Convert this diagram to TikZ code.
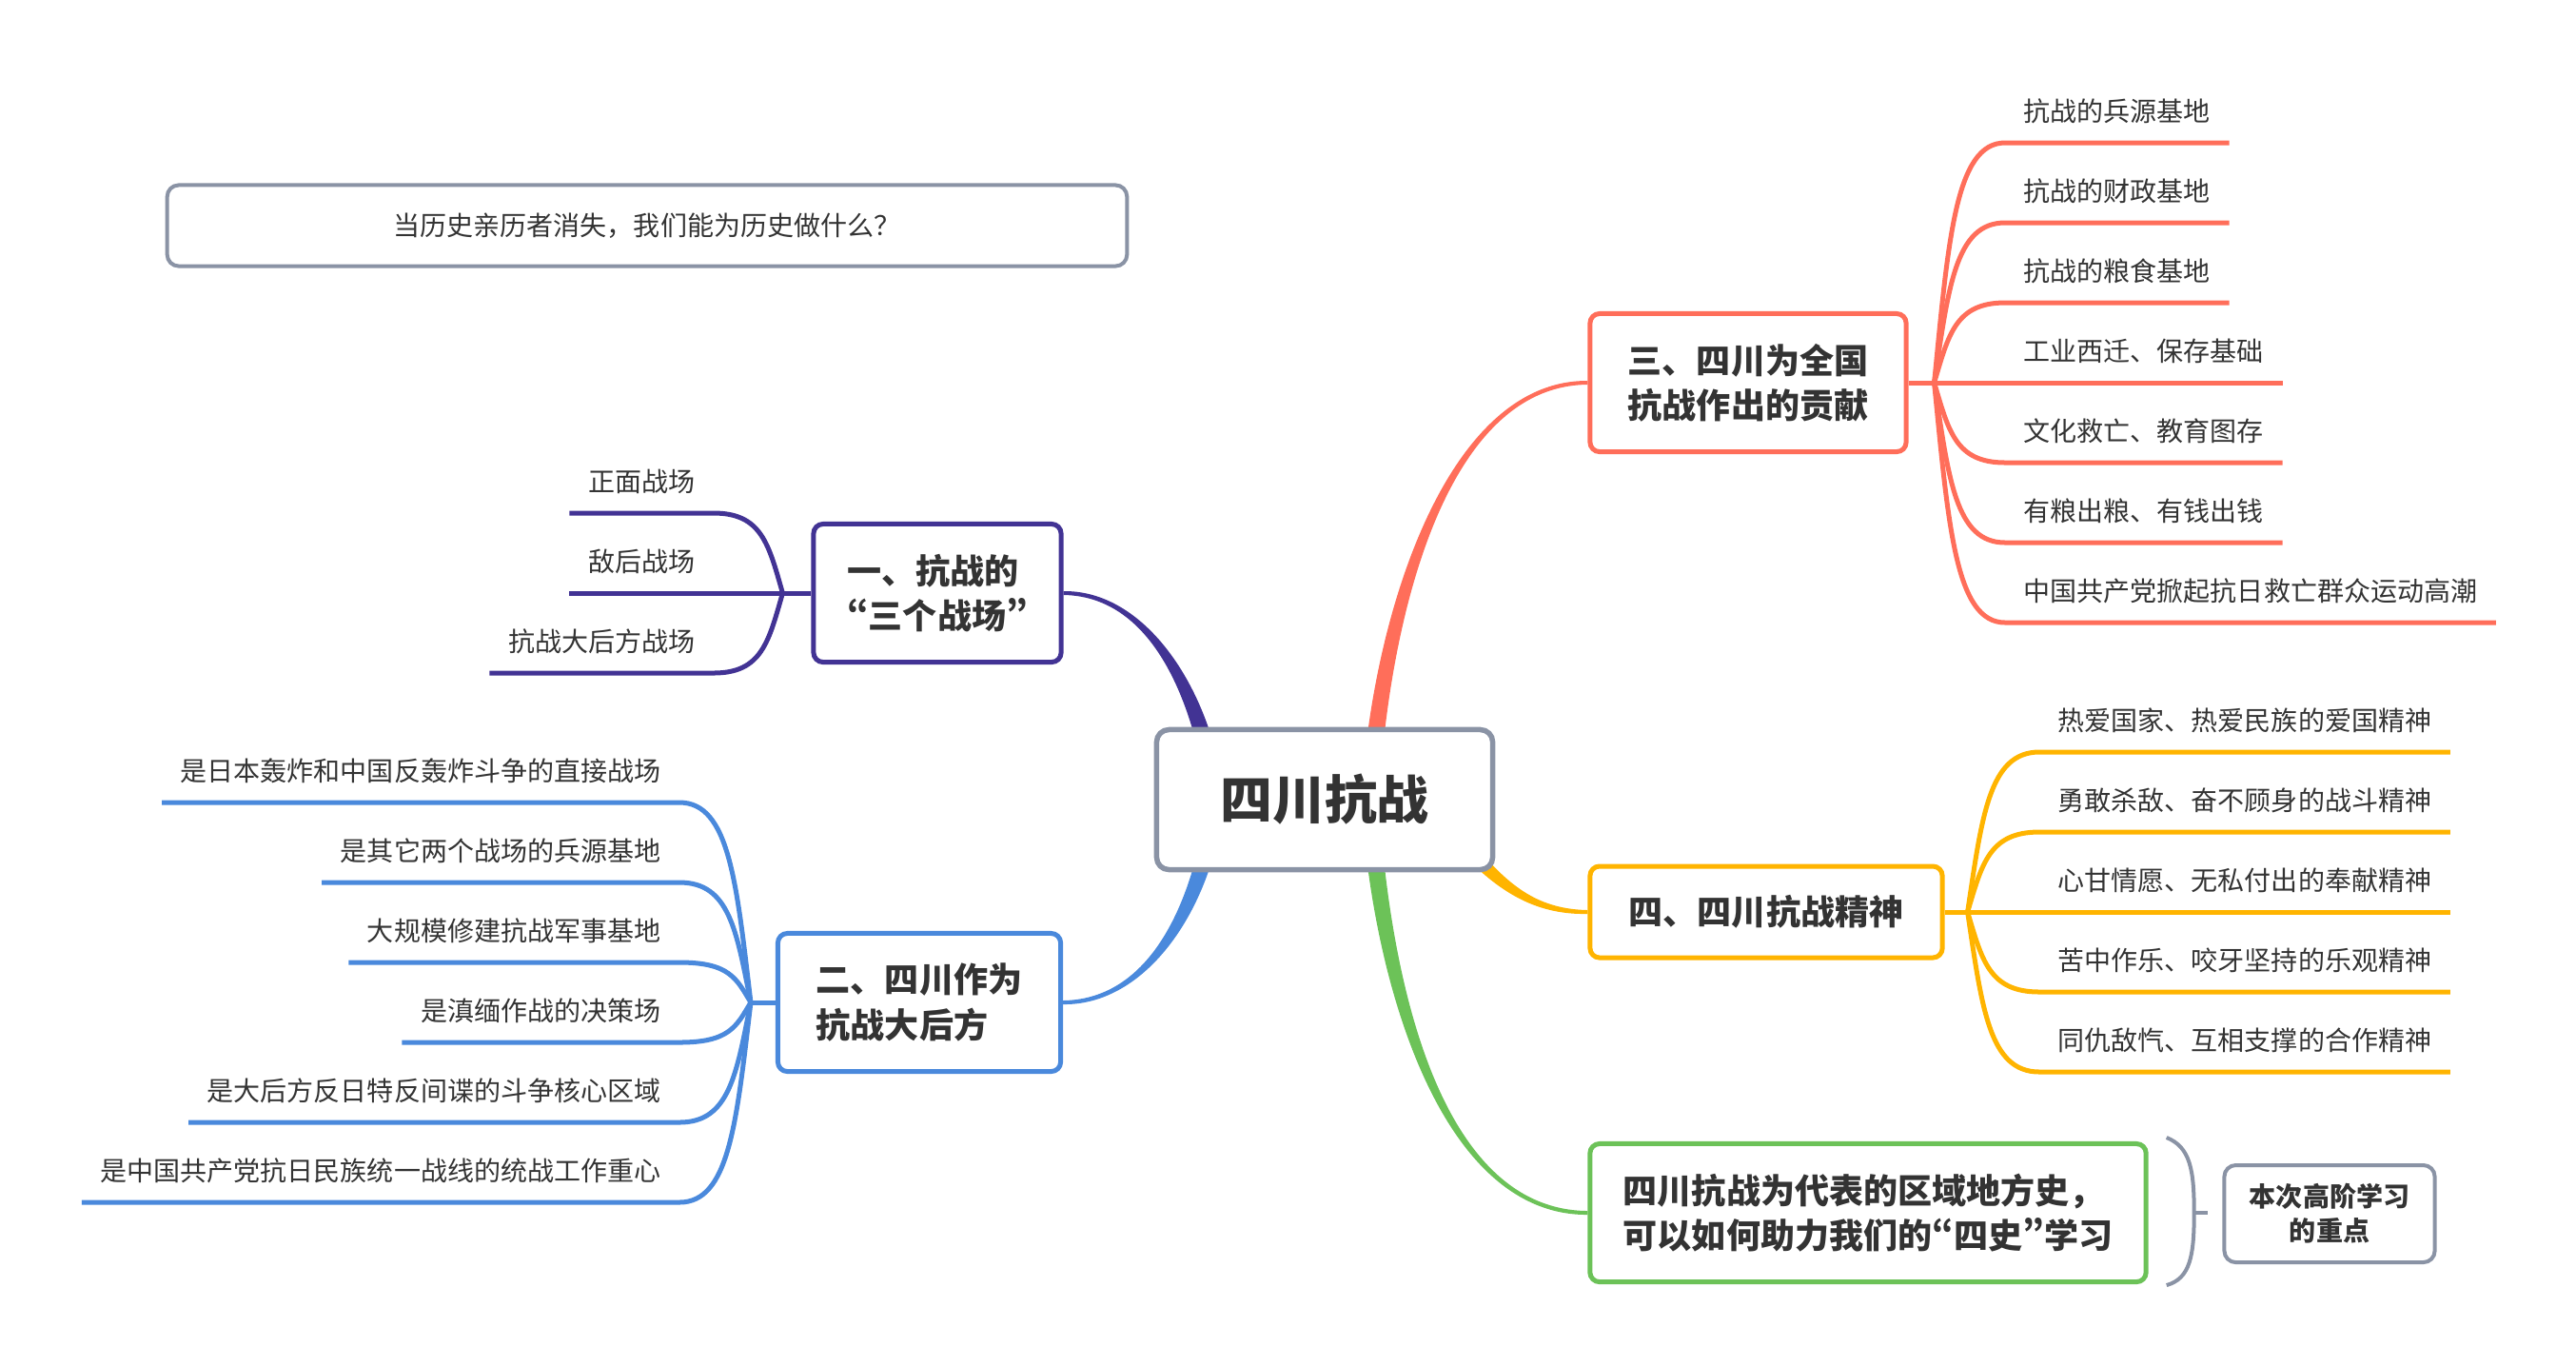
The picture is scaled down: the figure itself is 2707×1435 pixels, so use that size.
\documentclass[tikz,border=0pt]{standalone}
\usepackage{fontspec}
\setmainfont{Noto Sans CJK SC}
\newfontfamily\qf{Noto Sans CJK SC}[CharacterWidth=Proportional]
\usetikzlibrary{calc,backgrounds}
\definecolor{ink}{RGB}{51,51,51}
\definecolor{slate}{RGB}{138,147,165}
\definecolor{indigo}{RGB}{66,51,148}
\definecolor{sky}{RGB}{74,137,220}
\definecolor{coral}{RGB}{255,110,90}
\definecolor{amber}{RGB}{255,180,0}
\definecolor{grass}{RGB}{108,194,88}
\tikzset{
  hub/.style={draw=slate,line width=.055cm,rounded corners=.13cm,fill=white,text=ink,minimum width=3.53cm,minimum height=1.47cm,font=\bfseries\fontsize{15.6pt}{18pt}\selectfont},
  topic/.style={draw=#1,line width=.05cm,rounded corners=.1cm,fill=white,text=ink,align=left,inner sep=0pt,font=\bfseries\fontsize{10.25pt}{13.4pt}\selectfont},
  leaf/.style={text=ink,inner xsep=.19cm,inner ysep=.22cm,text depth=0pt,font=\fontsize{7.97pt}{10pt}\selectfont},
  note/.style={draw=slate,line width=.04cm,rounded corners=.12cm,fill=white,text=ink,align=center},
  twig/.style={draw=#1,line width=.05cm},
  fork/.style={to path={let \p1=(\tikztostart),\p2=(\tikztotarget) in
    .. controls ({\x1+0.2*(\x2-\x1)},{\y1+0.6*(\y2-\y1)}) and ({\x1+0.3*(\x2-\x1)},\y2) .. (\tikztotarget)}}
}
\begin{document}
\begin{tikzpicture}[x=0.01cm,y=-0.01cm]
\useasboundingbox (0,0) rectangle (2707,1435);

% question and centre
\node[note,minimum width=10.08cm,minimum height=.85cm,font=\fontsize{7.97pt}{10pt}\selectfont] (quest) at (680,237) {当历史亲历者消失，我们能为历史做什么？};
\node[hub] (hub) at (1392,840) {四川抗战};

% main topics
\node[topic=indigo,minimum width=2.6cm,minimum height=1.45cm] (t1) at (985,623) {一、抗战的\\{\qf“}三个战场{\qf”}};
\node[topic=sky,minimum width=2.97cm,minimum height=1.45cm] (t2) at (966,1053) {二、四川作为\\抗战大后方};
\node[topic=coral,minimum width=3.32cm,minimum height=1.45cm] (t3) at (1837,402) {三、四川为全国\\抗战作出的贡献};
\node[topic=amber,minimum width=3.7cm,minimum height=.96cm] (t4) at (1856,958) {四、四川抗战精神};
\node[topic=grass,minimum width=5.84cm,minimum height=1.45cm] (t5) at (1963,1274) {四川抗战为代表的区域地方史，\\可以如何助力我们的{\qf“}四史{\qf”}学习};
\node[note,minimum width=2.21cm,minimum height=1.02cm,font=\bfseries\fontsize{7.97pt}{10.2pt}\selectfont] (focus) at (2448,1275) {本次高阶学习\\的重点};

% tapered limbs from the centre
\coordinate (sr) at ($(hub.north)+(52,24)$);
\coordinate (sg) at ($(hub.south)+(52,-24)$);
\coordinate (sp) at ($(hub.north)+(-124,24)$);
\coordinate (sb) at ($(hub.south)+(-124,-24)$);
\coordinate (sy) at ($(hub.south east)+(-28,-24)$);
\begin{scope}[on background layer]
\fill[coral] ($(sr)+(-9,0)$) .. controls ($(sr)+(10,-170)$) and ($(t3.west)+(-140,-3)$) .. ($(t3.west)+(0,-2)$)
  -- ($(t3.west)+(0,2)$) .. controls ($(t3.west)+(-140,3)$) and ($(sr)+(26,-170)$) .. ($(sr)+(9,0)$) -- cycle;
\fill[grass] ($(sg)+(-9,0)$) .. controls ($(sg)+(10,170)$) and ($(t5.west)+(-145,3)$) .. ($(t5.west)+(0,2)$)
  -- ($(t5.west)+(0,-2)$) .. controls ($(t5.west)+(-145,-3)$) and ($(sg)+(26,170)$) .. ($(sg)+(9,0)$) -- cycle;
\fill[indigo] ($(sp)+(9,0)$) .. controls ($(sp)+(-15,-90)$) and ($(t1.east)+(75,-3)$) .. ($(t1.east)+(0,-2)$)
  -- ($(t1.east)+(0,2)$) .. controls ($(t1.east)+(75,3)$) and ($(sp)+(-31,-90)$) .. ($(sp)+(-9,0)$) -- cycle;
\fill[sky] ($(sb)+(9,0)$) .. controls ($(sb)+(-15,90)$) and ($(t2.east)+(75,3)$) .. ($(t2.east)+(0,2)$)
  -- ($(t2.east)+(0,-2)$) .. controls ($(t2.east)+(75,-3)$) and ($(sb)+(-31,90)$) .. ($(sb)+(-9,0)$) -- cycle;
\fill[amber] ($(sy)+(6,-5)$) .. controls ($(sy)+(44,41)$) and ($(t4.west)+(-50,-3)$) .. ($(t4.west)+(0,-2)$)
  -- ($(t4.west)+(0,2)$) .. controls ($(t4.west)+(-50,3)$) and ($(sy)+(36,49)$) .. ($(sy)+(-6,5)$) -- cycle;
\end{scope}

% branch one
\coordinate (j1) at ($(t1.west)+(-30,0)$);
\draw[twig=indigo] (t1.west) -- (j1);
\foreach \i/\txt in {0/正面战场,1/敌后战场,2/抗战大后方战场} {
  \node[leaf,anchor=south east] (p\i) at (750,539+84*\i) {\txt};
  \draw[twig=indigo] (j1) to[fork] (p\i.south east) -- (p\i.south west);
}

% branch two
\coordinate (j2) at ($(t2.west)+(-26,0)$);
\draw[twig=sky] (t2.west) -- (j2);
\foreach \i/\txt in {0/是日本轰炸和中国反轰炸斗争的直接战场,1/是其它两个战场的兵源基地,2/大规模修建抗战军事基地,
  3/是滇缅作战的决策场,4/是大后方反日特反间谍的斗争核心区域,5/是中国共产党抗日民族统一战线的统战工作重心} {
  \node[leaf,anchor=south east] (b\i) at (714,843+84*\i) {\txt};
  \draw[twig=sky] (j2) to[fork] (b\i.south east) -- (b\i.south west);
}

% branch three
\coordinate (j3) at ($(t3.east)+(27,0)$);
\draw[twig=coral] (t3.east) -- (j3);
\foreach \i/\txt in {0/抗战的兵源基地,1/抗战的财政基地,2/抗战的粮食基地,3/工业西迁、保存基础,
  4/文化救亡、教育图存,5/有粮出粮、有钱出钱,6/中国共产党掀起抗日救亡群众运动高潮} {
  \node[leaf,anchor=south west] (r\i) at (2107,150+84*\i) {\txt};
  \draw[twig=coral] (j3) to[fork] (r\i.south west) -- (r\i.south east);
}

% branch four
\coordinate (j4) at ($(t4.east)+(24,0)$);
\draw[twig=amber] (t4.east) -- (j4);
\foreach \i/\txt in {0/热爱国家、热爱民族的爱国精神,1/勇敢杀敌、奋不顾身的战斗精神,2/心甘情愿、无私付出的奉献精神,
  3/苦中作乐、咬牙坚持的乐观精神,4/同仇敌忾、互相支撑的合作精神} {
  \node[leaf,anchor=south west] (y\i) at (2143,790+84*\i) {\txt};
  \draw[twig=amber] (j4) to[fork] (y\i.south west) -- (y\i.south east);
}

% summary brace
\coordinate (bm) at ($(t5.east)+(48,0)$);
\draw[slate,line width=.04cm] ($(t5.north east)+(19,-4)$) .. controls ($(t5.north east)+(44,6)$) and ($(bm)+(0,-45)$) .. (bm)
  .. controls ($(bm)+(0,45)$) and ($(t5.south east)+(44,-6)$) .. ($(t5.south east)+(19,1)$);
\draw[slate,line width=.04cm] (bm) -- ++(14,0);
\end{tikzpicture}
\end{document}
